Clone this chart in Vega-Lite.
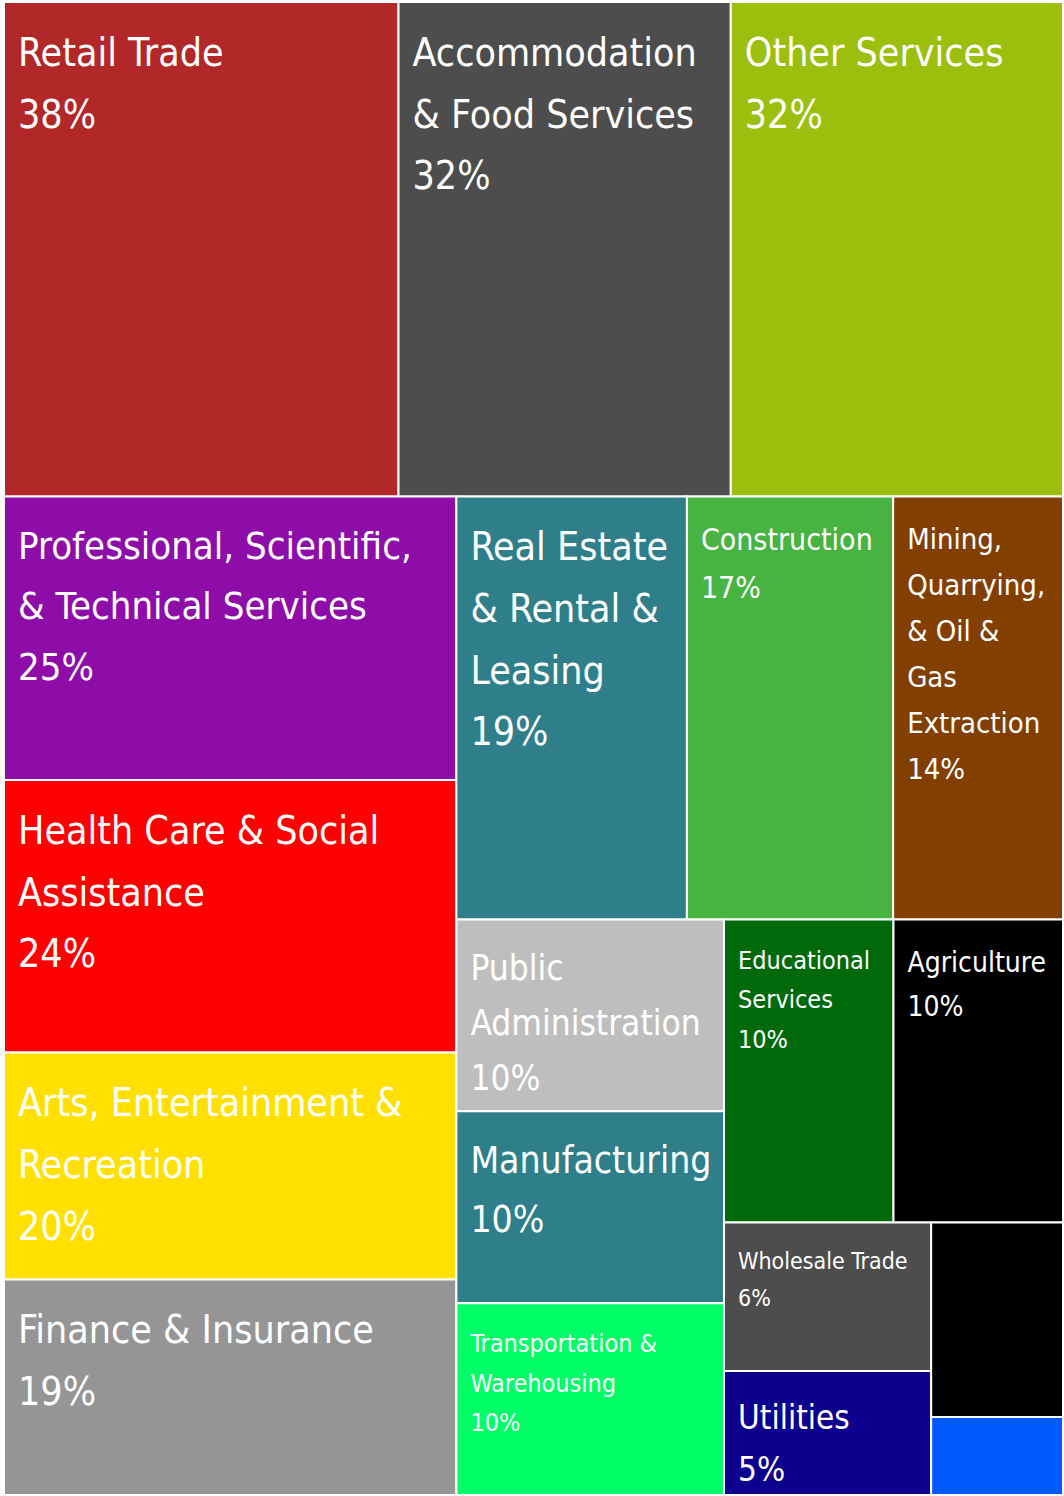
{
  "$schema": "https://vega.github.io/schema/vega-lite/v6.json",
  "width": 1064,
  "height": 1496,
  "autosize": {"type": "fit", "contains": "padding"},
  "padding": {"left": 3, "top": 1, "right": 0, "bottom": 0},
  "background": "white",
  "config": {"view": {"stroke": null}},
  "data": {
    "values": [
      {"industry": "Retail Trade", "label": "Retail Trade\n38%", "value": 38, "strip": 1, "o": 1},
      {"industry": "Accommodation & Food Services", "label": "Accommodation\n& Food Services\n32%", "value": 32, "strip": 1, "o": 2},
      {"industry": "Other Services", "label": "Other Services\n32%", "value": 32, "strip": 1, "o": 3},
      {"industry": "Professional, Scientific, & Technical Services", "label": "Professional, Scientific,\n& Technical Services\n25%", "value": 25, "strip": 2, "o": 1},
      {"industry": "Health Care & Social Assistance", "label": "Health Care & Social\nAssistance\n24%", "value": 24, "strip": 2, "o": 2},
      {"industry": "Arts, Entertainment & Recreation", "label": "Arts, Entertainment &\nRecreation\n20%", "value": 20, "strip": 2, "o": 3},
      {"industry": "Finance & Insurance", "label": "Finance & Insurance\n19%", "value": 19, "strip": 2, "o": 4},
      {"industry": "Real Estate & Rental & Leasing", "label": "Real Estate\n& Rental &\nLeasing\n19%", "value": 19, "strip": 3, "o": 1},
      {"industry": "Construction", "label": "Construction\n17%", "value": 17, "strip": 3, "o": 2},
      {"industry": "Mining, Quarrying, & Oil & Gas Extraction", "label": "Mining,\nQuarrying,\n& Oil &\nGas\nExtraction\n14%", "value": 14, "strip": 3, "o": 3},
      {"industry": "Public Administration", "label": "Public\nAdministration\n10%", "value": 10, "strip": 4, "o": 1},
      {"industry": "Manufacturing", "label": "Manufacturing\n10%", "value": 10, "strip": 4, "o": 2},
      {"industry": "Transportation & Warehousing", "label": "Transportation &\nWarehousing\n10%", "value": 10, "strip": 4, "o": 3},
      {"industry": "Educational Services", "label": "Educational\nServices\n10%", "value": 10, "strip": 5, "o": 1},
      {"industry": "Agriculture", "label": "Agriculture\n10%", "value": 10, "strip": 5, "o": 2},
      {"industry": "Wholesale Trade", "label": "Wholesale Trade\n6%", "value": 6, "strip": 6, "o": 1},
      {"industry": "Utilities", "label": "Utilities\n5%", "value": 5, "strip": 6, "o": 2},
      {"industry": "Management of Companies", "label": "", "value": 5, "strip": 7, "o": 1},
      {"industry": "Information", "label": "", "value": 2, "strip": 7, "o": 2}
    ]
  },
  "transform": [
    {"calculate": "datum.strip==1?datum.value:0", "as": "c1"},
    {"calculate": "datum.strip==2?datum.value:0", "as": "c2"},
    {"calculate": "datum.strip==3?datum.value:0", "as": "c3"},
    {"calculate": "datum.strip==4?datum.value:0", "as": "c4"},
    {"calculate": "datum.strip==5?datum.value:0", "as": "c5"},
    {"calculate": "datum.strip==6?datum.value:0", "as": "c6"},
    {"joinaggregate": [
      {"op": "sum", "field": "value", "as": "T"},
      {"op": "sum", "field": "c1", "as": "S1"},
      {"op": "sum", "field": "c2", "as": "S2"},
      {"op": "sum", "field": "c3", "as": "S3"},
      {"op": "sum", "field": "c4", "as": "S4"},
      {"op": "sum", "field": "c5", "as": "S5"},
      {"op": "sum", "field": "c6", "as": "S6"}
    ]},
    {"joinaggregate": [{"op": "sum", "field": "value", "as": "S"}], "groupby": ["strip"]},
    {"stack": "value", "groupby": ["strip"], "sort": [{"field": "o", "order": "ascending"}], "offset": "normalize", "as": ["f0", "f1"]},
    {"calculate": "datum.T-datum.S1", "as": "R2"},
    {"calculate": "datum.T-datum.S1-datum.S2", "as": "R3"},
    {"calculate": "datum.T-datum.S1-datum.S2-datum.S3", "as": "R4"},
    {"calculate": "datum.T-datum.S1-datum.S2-datum.S3-datum.S4", "as": "R5"},
    {"calculate": "datum.T-datum.S1-datum.S2-datum.S3-datum.S4-datum.S5", "as": "R6"},
    {"calculate": "datum.T-datum.S1-datum.S2-datum.S3-datum.S4-datum.S5-datum.S6", "as": "R7"},
    {"calculate": "[datum.T,datum.R2,datum.R3,datum.R4,datum.R5,datum.R6,datum.R7][datum.strip-1]", "as": "Rk"},
    {"calculate": "datum.strip<=2?1:datum.strip<=4?datum.R3/datum.R2:datum.strip<=6?(datum.R3/datum.R2)*(datum.R5/datum.R4):(datum.R3/datum.R2)*(datum.R5/datum.R4)*(datum.R7/datum.R6)", "as": "w"},
    {"calculate": "datum.strip==1?1:datum.strip<=3?datum.R2/datum.T:datum.strip<=5?(datum.R2/datum.T)*(datum.R4/datum.R3):(datum.R2/datum.T)*(datum.R4/datum.R3)*(datum.R6/datum.R5)", "as": "h"},
    {"calculate": "datum.strip==1||datum.strip==3||datum.strip==5", "as": "horiz"},
    {"calculate": "datum.horiz?1-datum.w+datum.w*datum.f0:1-datum.w", "as": "x0"},
    {"calculate": "datum.horiz?1-datum.w+datum.w*datum.f1:1-datum.w+datum.w*datum.S/datum.Rk", "as": "x1"},
    {"calculate": "datum.horiz?1-datum.h:1-datum.h+datum.h*datum.f0", "as": "y0"},
    {"calculate": "datum.horiz?1-datum.h+datum.h*datum.S/datum.Rk:1-datum.h+datum.h*datum.f1", "as": "y1"}
  ],
  "encoding": {
    "x": {"field": "x0", "type": "quantitative", "scale": {"domain": [0, 1], "nice": false, "zero": false}, "axis": null},
    "y": {"field": "y0", "type": "quantitative", "scale": {"domain": [0, 1], "nice": false, "zero": false, "reverse": true}, "axis": null}
  },
  "layer": [
    {
      "mark": {"type": "rect", "stroke": "white", "strokeWidth": 2},
      "encoding": {
        "x2": {"field": "x1"},
        "y2": {"field": "y1"},
        "color": {
          "field": "industry",
          "type": "nominal",
          "legend": null,
          "scale": {
            "domain": ["Retail Trade", "Accommodation & Food Services", "Other Services", "Professional, Scientific, & Technical Services", "Health Care & Social Assistance", "Arts, Entertainment & Recreation", "Finance & Insurance", "Real Estate & Rental & Leasing", "Construction", "Mining, Quarrying, & Oil & Gas Extraction", "Public Administration", "Manufacturing", "Transportation & Warehousing", "Educational Services", "Agriculture", "Wholesale Trade", "Utilities", "Management of Companies", "Information"],
            "range": ["#B22828", "#4D4D4D", "#9CBE0C", "#8E0CA8", "#FF0000", "#FFE000", "#959595", "#2E7F8A", "#47B340", "#823F00", "#BEBEBE", "#2E7F8A", "#00FF66", "#006A0A", "#000000", "#4D4D4D", "#0E008F", "#000000", "#0059FF"]
          }
        }
      }
    },
    {
      "mark": {
        "type": "text",
        "align": "left",
        "baseline": "line-top",
        "color": "white",
        "font": "DejaVu Sans Condensed, DejaVu Sans, sans-serif",
        "lineBreak": "\n",
        "dx": 14,
        "dy": 22,
        "lineHeight": {"expr": "scale('size', datum.industry)*1.58"}
      },
      "encoding": {
        "text": {"field": "label"},
        "size": {
          "field": "industry",
          "type": "nominal",
          "legend": null,
          "scale": {
            "type": "ordinal",
            "domain": ["Retail Trade", "Accommodation & Food Services", "Other Services", "Professional, Scientific, & Technical Services", "Health Care & Social Assistance", "Arts, Entertainment & Recreation", "Finance & Insurance", "Real Estate & Rental & Leasing", "Construction", "Mining, Quarrying, & Oil & Gas Extraction", "Public Administration", "Manufacturing", "Transportation & Warehousing", "Educational Services", "Agriculture", "Wholesale Trade", "Utilities", "Management of Companies", "Information"],
            "range": [39, 39, 39, 38, 39, 39, 39, 39, 30, 29, 35, 37, 25, 25, 28, 23, 33, 10, 10]
          }
        }
      }
    }
  ]
}
